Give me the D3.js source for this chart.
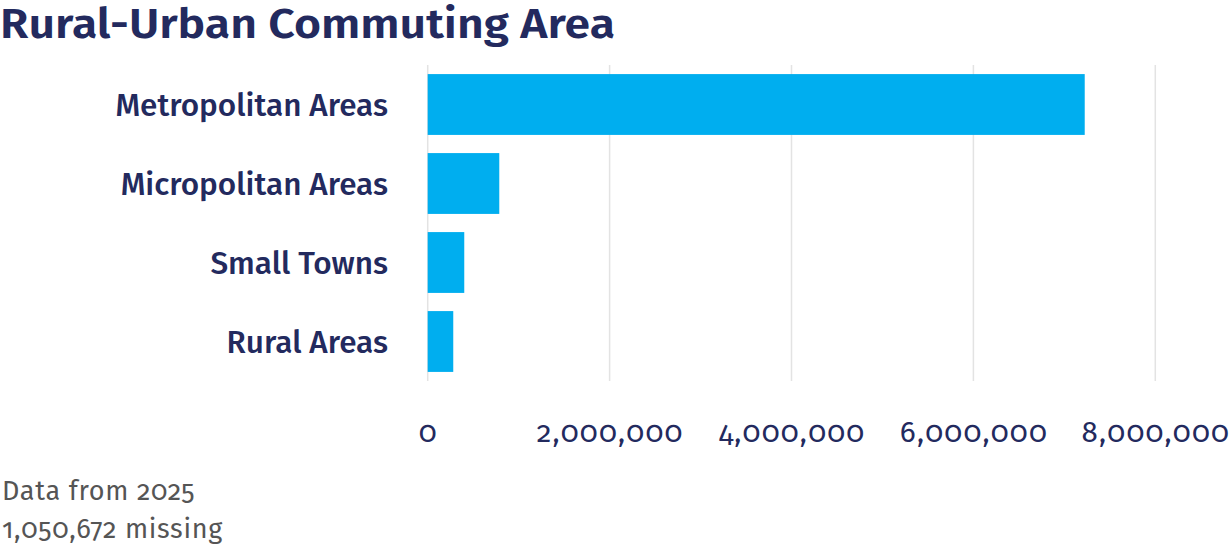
<!DOCTYPE html>
<html>
<head>
<meta charset="utf-8">
<script src="https://cdn.jsdelivr.net/npm/d3@7"></script>
<style>
  body { margin: 0; background: #fff; }
  svg text { font-family: "Fira Sans", Lato, "Noto Sans", sans-serif; font-variant-numeric: oldstyle-nums; }
</style>
</head>
<body>
<script>
  // chart data
  var categories = ["Metropolitan Areas", "Micropolitan Areas", "Small Towns", "Rural Areas"];
  var values = [7224000, 787000, 402000, 281000];
  var tickValues = [0, 2000000, 4000000, 6000000, 8000000];
  var title = "Rural-Urban Commuting Area";
  var notes = ["Data from 2025", "1,050,672 missing"];

  var width = 1230, height = 546;
  var navy = "#232a5e";

  var svg = d3.select("body").append("svg")
      .attr("width", width)
      .attr("height", height);

  var x = d3.scaleLinear().domain([0, 8000000]).range([427.7, 1155.3]);
  var y = d3.scaleBand().domain(categories).range([65, 381])
      .paddingInner(0.23).paddingOuter(0.115);

  // gridlines
  svg.append("g").selectAll("line")
      .data(tickValues)
      .enter().append("line")
      .attr("x1", function(d){ return x(d); })
      .attr("x2", function(d){ return x(d); })
      .attr("y1", 65).attr("y2", 381)
      .attr("stroke", "#e3e3e3")
      .attr("stroke-width", 1.5);

  // bars
  svg.append("g").selectAll("rect")
      .data(values)
      .enter().append("rect")
      .attr("x", x(0))
      .attr("y", function(d, i){ return y(categories[i]); })
      .attr("width", function(d){ return x(d) - x(0); })
      .attr("height", y.bandwidth())
      .attr("fill", "#00aeef");

  // category labels
  var yAxis = svg.append("g")
      .attr("transform", "translate(388,0)")
      .call(d3.axisLeft(y).tickSize(0).tickPadding(0));
  yAxis.select(".domain").remove();
  yAxis.selectAll("text")
      .attr("fill", navy)
      .attr("font-size", 31.5)
      .attr("font-weight", 500)
      .attr("dy", "0.35em");

  // x tick labels
  var xAxis = svg.append("g")
      .attr("transform", "translate(0,426)")
      .call(d3.axisBottom(x).tickValues(tickValues).tickSize(0).tickPadding(0)
        .tickFormat(d3.format(",")));
  xAxis.select(".domain").remove();
  xAxis.selectAll("text")
      .attr("fill", navy)
      .attr("font-size", 29.5)
      .attr("letter-spacing", 1.2)
      .attr("dy", "0.35em")
      .attr("y", 6);

  // title
  var t = svg.append("text")
      .attr("x", 0).attr("y", 38)
      .attr("fill", navy)
      .attr("font-size", 41)
      .attr("font-weight", 600)
      .text(title);
  t.attr("textLength", 615).attr("lengthAdjust", "spacingAndGlyphs");

  // footnotes
  svg.selectAll(".note")
      .data(notes)
      .enter().append("text")
      .attr("class", "note")
      .attr("x", 2)
      .attr("y", function(d, i){ return 500 + i * 38; })
      .attr("fill", "#555")
      .attr("font-size", 27)
      .attr("font-weight", 400)
      .attr("letter-spacing", 0.7)
      .text(function(d){ return d; });
</script>
</body>
</html>
